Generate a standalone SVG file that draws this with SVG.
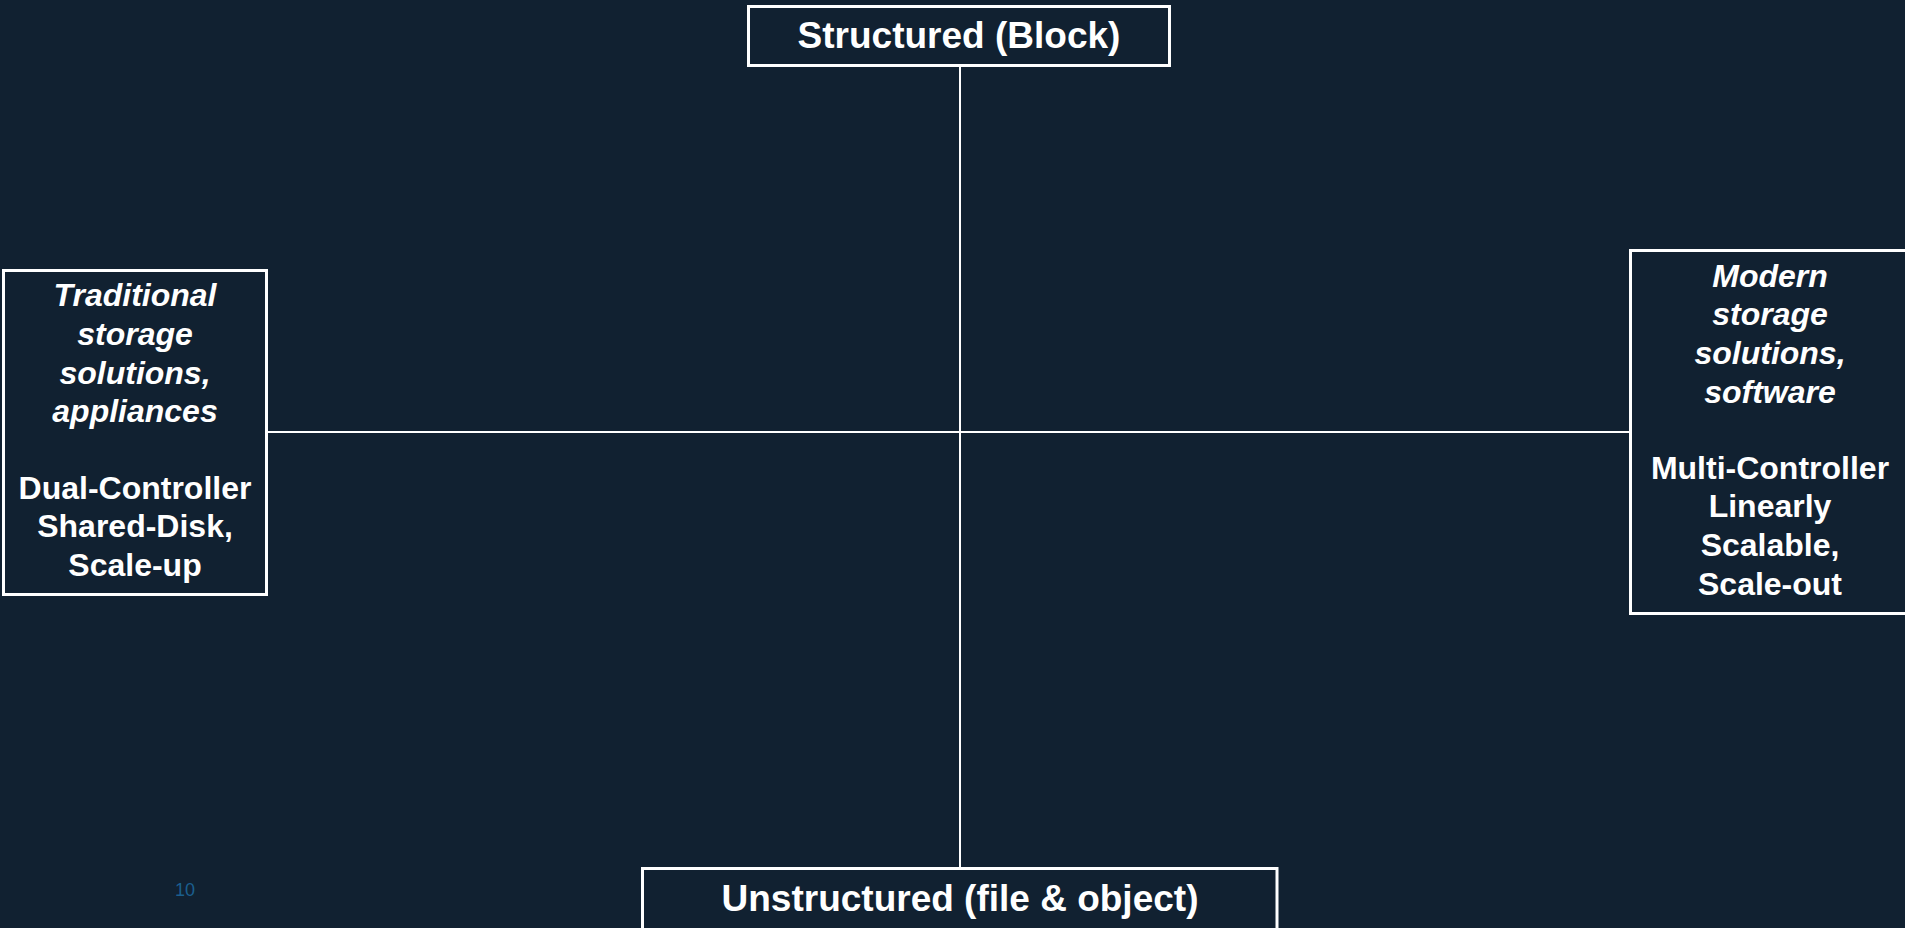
<svg xmlns="http://www.w3.org/2000/svg" width="1905" height="928" viewBox="0 0 1905 928">
  <style>
    .box { fill: #112131; stroke: #ffffff; stroke-width: 3; }
    .conn { stroke: #ffffff; stroke-width: 2; fill: none; }
    .t { font-family: "Liberation Sans", Arial, sans-serif; font-weight: bold; fill: #ffffff; text-anchor: middle; }
    .title { font-size: 37px; }
    .side { font-size: 32px; }
    .it { font-style: italic; }
    .pg { font-family: "Liberation Sans", Arial, sans-serif; font-size: 18px; fill: #1b5f8e; }
  </style>
  <rect x="0" y="0" width="1905" height="928" fill="#112131"/>
  <g id="connectors">
    <line class="conn" x1="960" y1="66" x2="960" y2="868"/>
    <line class="conn" x1="267" y1="432" x2="1630" y2="432"/>
  </g>
  <g id="node-structured">
    <rect class="box" x="748.5" y="6.5" width="421" height="59"/>
    <text class="t title" x="959" y="48">Structured (Block)</text>
  </g>
  <g id="node-traditional">
    <rect class="box" x="3.5" y="270.5" width="263" height="324"/>
    <text class="t side it" x="135" y="306">Traditional</text>
    <text class="t side it" x="135" y="345">storage</text>
    <text class="t side it" x="135" y="384">solutions,</text>
    <text class="t side it" x="135" y="422">appliances</text>
    <text class="t side" x="135" y="499">Dual-Controller</text>
    <text class="t side" x="135" y="537">Shared-Disk,</text>
    <text class="t side" x="135" y="576">Scale-up</text>
  </g>
  <g id="node-modern">
    <rect class="box" x="1630.5" y="250.5" width="281" height="363"/>
    <text class="t side it" x="1770" y="287">Modern</text>
    <text class="t side it" x="1770" y="325">storage</text>
    <text class="t side it" x="1770" y="364">solutions,</text>
    <text class="t side it" x="1770" y="403">software</text>
    <text class="t side" x="1770" y="479">Multi-Controller</text>
    <text class="t side" x="1770" y="517">Linearly</text>
    <text class="t side" x="1770" y="556">Scalable,</text>
    <text class="t side" x="1770" y="595">Scale-out</text>
  </g>
  <g id="node-unstructured">
    <rect class="box" x="642.5" y="868.5" width="634.5" height="80"/>
    <text class="t title" x="960" y="911">Unstructured (file &amp; object)</text>
  </g>
  <text class="pg" x="175" y="896">10</text>
</svg>
